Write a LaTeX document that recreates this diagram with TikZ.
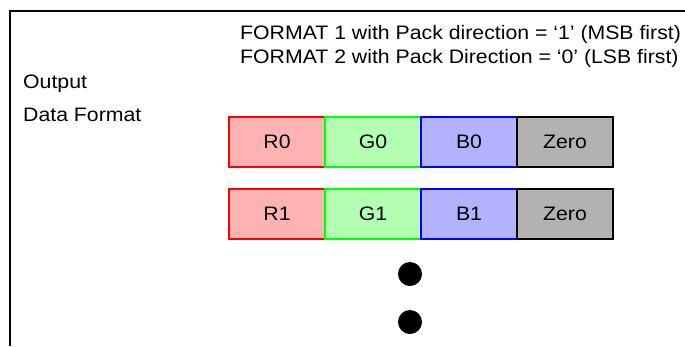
\documentclass[tikz,border=0pt]{standalone}
\usepackage{fontspec}
\setmainfont{Liberation Sans}[FakeStretch=1.09]
\usepackage{xcolor}
\usepackage{tikz}
\usetikzlibrary{positioning}
\definecolor{cellR}{HTML}{FF0000}
\definecolor{cellG}{HTML}{00FF00}
\definecolor{cellB}{HTML}{0000FF}
\definecolor{cellZ}{HTML}{000000}
\tikzset{
  cell/.style={rectangle, draw=#1, line width=1.5pt, fill=#1!30, outer sep=0pt,
               minimum width=96pt, minimum height=50pt, inner sep=0pt},
  lbl/.style={anchor=base west, inner sep=0pt, font=\fontsize{19.5}{24}\selectfont},
  dotmark/.style={circle, fill=black, minimum size=24pt, inner sep=0pt},
  frame/.style={line width=2pt, draw=black},
}

\begin{document}
\begin{tikzpicture}[x=1pt, y=-1pt, node distance=0pt, font=\fontsize{19.5}{24}\selectfont]
    \useasboundingbox (0,0) rectangle (685,346);
    \draw[frame] (685,11) -- (10,11) -- (10,346);
    % headings
    \node[lbl] (fmt1) at (240,39) {FORMAT 1 with Pack direction = ‘1’ (MSB first)};
    \node[lbl] (fmt2) at (240,63) {FORMAT 2 with Pack Direction = ‘0’ (LSB first)};
    \node[lbl] (out) at (23,88) {Output};
    \node[lbl] (dfmt) at (23,121) {Data Format};
    % first word
    \node[cell=cellR, anchor=north west] (r0) at (229,117) {R0};
    \node[cell=cellG, right=of r0] (g0) {G0};
    \node[cell=cellB, right=of g0] (b0) {B0};
    \node[cell=cellZ, right=of b0] (z0) {Zero};
    % second word
    \node[cell=cellR, below=22pt of r0] (r1) {R1};
    \node[cell=cellG, right=of r1] (g1) {G1};
    \node[cell=cellB, right=of g1] (b1) {B1};
    \node[cell=cellZ, right=of b1] (z1) {Zero};
    % more words follow
    \node[dotmark] (dot1) at (410,274) {};
    \node[dotmark] (dot2) at (410,322) {};
  \end{tikzpicture}
\end{document}
